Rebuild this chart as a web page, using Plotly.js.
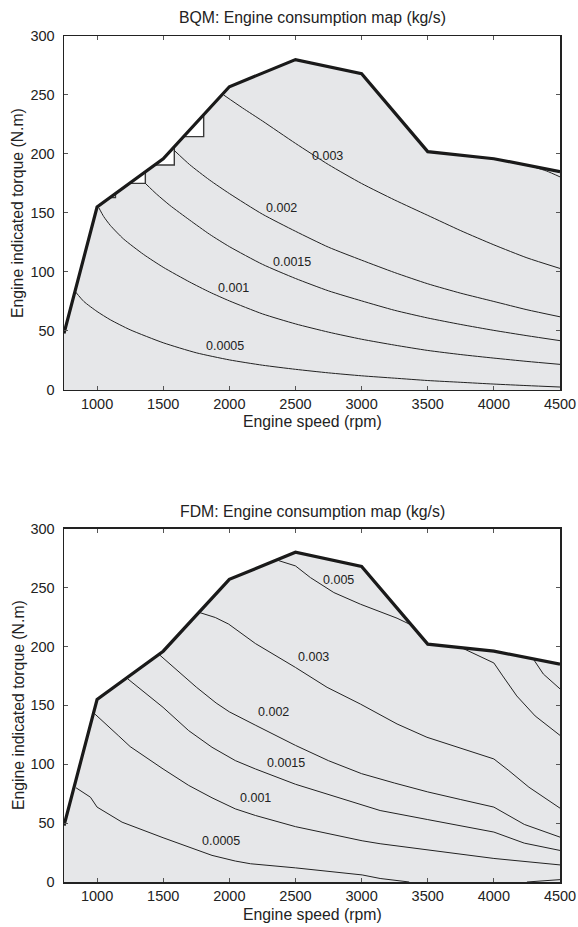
<!DOCTYPE html>
<html>
<head>
<meta charset="utf-8">
<script src="https://cdn.plot.ly/plotly-3.0.1.min.js"></script>
<style>html,body{margin:0;padding:0;background:#fff;}#chart{width:578px;height:927px;}</style>
</head>
<body>
<div id="chart"></div>
<script>
// ---------- shared envelope (max torque curve) ----------
const envRpm = [750, 1000, 1500, 2000, 2500, 3000, 3500, 4000, 4500];
const envTorque = [48, 155, 196, 257, 280, 268, 202, 196, 185];

// ---------- BQM (top) ----------
const bqmFillRpm = [750, 1000, 1098, 1139, 1139, 1246, 1365, 1365, 1435, 1584, 1584, 1653, 1806, 1806, 2000, 2500, 3000, 3500, 4000, 4500];
const bqmFillTorque = [48, 155, 163, 163, 166.4, 175.1, 175.1, 184.9, 190.7, 190.7, 206.2, 214.7, 214.7, 233.3, 257, 280, 268, 202, 196, 185];

const bqm0005Rpm = [838, 900, 1000, 1100, 1250, 1500, 1750, 2000, 2250, 2500, 2750, 3000, 3250, 3500, 3750, 4000, 4250, 4500];
const bqm0005Tq = [83, 75, 66.5, 59.5, 51, 40, 31.5, 25.5, 21, 17.5, 14.5, 12, 10, 8, 6.5, 5, 3.7, 2.5];
const bqm001Rpm = [1013, 1050, 1100, 1200, 1350, 1500, 1700, 1850, 2000, 2250, 2500, 2750, 3000, 3250, 3500, 3750, 4000, 4250, 4500];
const bqm001Tq = [154.5, 147, 139.5, 128, 115, 104, 91.5, 83, 75.5, 64.5, 56, 49, 43, 38, 33.5, 30, 27, 24.2, 21.7];
const bqm0015Rpm = [1365, 1450, 1550, 1700, 1850, 2000, 2250, 2500, 2750, 3000, 3250, 3500, 3750, 4000, 4250, 4500];
const bqm0015Tq = [175.1, 166, 156.5, 144, 132, 121.5, 106.5, 94.5, 84, 75.5, 67.5, 61, 55.5, 50.5, 46, 41.8];
const bqm002Rpm = [1584, 1700, 1850, 2000, 2250, 2500, 2750, 3000, 3250, 3500, 3750, 4000, 4250, 4500];
const bqm002Tq = [203, 191, 178, 166.5, 149, 134.5, 121, 110, 99.5, 90, 82, 75, 68, 62];
const bqm003Rpm = [1957, 2100, 2250, 2500, 2750, 3000, 3250, 3500, 3750, 4000, 4250, 4500];
const bqm003Tq = [250, 239, 228, 209, 191, 175, 161, 148, 135, 123, 112, 103];
const bqmTopRpm = [4284, 4400, 4500];
const bqmTopTq = [189.6, 185.5, 180.6];

const bqmLabelText = ['0.003', '0.002', '0.0015', '0.001', '0.0005'];
const bqmLabelRpm = [2744, 2398, 2477, 2032, 1965];
const bqmLabelTq = [198.3, 154, 108.8, 86.2, 37.6];

// ---------- FDM (bottom) ----------
const fdm0005Rpm = [841, 950, 1000, 1189, 1499, 1693, 1869, 2045, 2160, 2500, 3004, 3140, 3360, null, 4250, 4500];
const fdm0005Tq = [80, 72, 63.6, 50.8, 37.6, 29.7, 22.6, 17.8, 15.5, 12, 6, 3, 0, null, 0, 2];
const fdm001Rpm = [985, 1000, 1164, 1250, 1499, 1693, 1869, 2045, 2197, 2500, 3004, 3140, 3500, 4000, 4500];
const fdm001Tq = [142.5, 141, 124, 115, 96, 82, 71.5, 62.1, 56.5, 47, 35, 32.5, 27.5, 20, 14.5];
const fdm0015Rpm = [1234, 1499, 1693, 1869, 2045, 2197, 2500, 3004, 3140, 3500, 4000, 4230, 4500];
const fdm0015Tq = [172.3, 148.3, 128.5, 114.4, 103.1, 96, 83, 65, 60.7, 53, 42.4, 33, 26.8];
const fdm002Rpm = [1471, 1600, 1750, 1900, 2000, 2200, 2500, 2750, 3000, 3250, 3500, 3750, 4000, 4230, 4500];
const fdm002Tq = [193, 180, 165.5, 152, 144.5, 133, 116, 103, 92, 84, 76.5, 70, 63.6, 48.9, 38.1];
const fdm003Rpm = [1770, 1894, 1995, 2096, 2197, 2500, 2739, 2991, 3140, 3268, 3494, 4000, 4113, 4265, 4500];
const fdm003Tq = [229, 224.6, 219, 210.5, 202.5, 182.2, 165.3, 151.1, 142, 134.2, 122.9, 104.5, 94.6, 80.5, 62.7];
const fdm005Rpm = [2370, 2500, 2613, 2790, 2991, 3268, 3380];
const fdm005Tq = [273, 268.4, 258.5, 245.8, 235.9, 224, 218];
const fdmRightARpm = [3754, 4000, 4067, 4173, 4312, 4500];
const fdmRightATq = [199, 186, 175, 158, 141, 124.5];
const fdmRightBRpm = [4298, 4374, 4500];
const fdmRightBTq = [189.4, 176.6, 164];

const fdmLabelText = ['0.005', '0.003', '0.002', '0.0015', '0.001', '0.0005'];
const fdmLabelRpm = [2827, 2638, 2336, 2430, 2196, 1937];
const fdmLabelTq = [256.2, 191.2, 144, 101.1, 71, 34.5];

const xTicks = [1000, 1500, 2000, 2500, 3000, 3500, 4000, 4500];

// ---------- styles ----------
const FONT = 'Liberation Sans, Arial, Helvetica, sans-serif';
const GRAY = '#e6e7e9';
const INK = '#1a1a1a';

function contour(x, y, ax, shape) {
  return {x: x, y: y, xaxis: ax[0], yaxis: ax[1], type: 'scatter', mode: 'lines',
    line: {color: '#222', width: 1, shape: shape || 'linear', smoothing: 0.6},
    hoverinfo: 'skip', showlegend: false, connectgaps: false};
}

const axTop = ['x', 'y'], axBot = ['x2', 'y2'];
const traces = [
  {x: bqmFillRpm, y: bqmFillTorque, xaxis: 'x', yaxis: 'y', type: 'scatter', mode: 'lines', fill: 'tozeroy',
   fillcolor: GRAY, line: {color: '#3a3a3a', width: 1.4}, hoverinfo: 'skip', showlegend: false},
  contour(bqm0005Rpm, bqm0005Tq, axTop, 'spline'),
  contour(bqm001Rpm, bqm001Tq, axTop, 'spline'),
  contour(bqm0015Rpm, bqm0015Tq, axTop, 'spline'),
  contour(bqm002Rpm, bqm002Tq, axTop, 'spline'),
  contour(bqm003Rpm, bqm003Tq, axTop, 'spline'),
  contour(bqmTopRpm, bqmTopTq, axTop, 'spline'),
  {x: envRpm, y: envTorque, xaxis: 'x', yaxis: 'y', type: 'scatter', mode: 'lines',
   line: {color: INK, width: 3.2}, hoverinfo: 'skip', showlegend: false},

  {x: envRpm, y: envTorque, xaxis: 'x2', yaxis: 'y2', type: 'scatter', mode: 'lines', fill: 'tozeroy',
   fillcolor: GRAY, line: {color: GRAY, width: 0}, hoverinfo: 'skip', showlegend: false},
  contour(fdm0005Rpm, fdm0005Tq, axBot),
  contour(fdm001Rpm, fdm001Tq, axBot),
  contour(fdm0015Rpm, fdm0015Tq, axBot),
  contour(fdm002Rpm, fdm002Tq, axBot),
  contour(fdm003Rpm, fdm003Tq, axBot),
  contour(fdm005Rpm, fdm005Tq, axBot),
  contour(fdmRightARpm, fdmRightATq, axBot),
  contour(fdmRightBRpm, fdmRightBTq, axBot),
  {x: envRpm, y: envTorque, xaxis: 'x2', yaxis: 'y2', type: 'scatter', mode: 'lines',
   line: {color: INK, width: 3.2}, hoverinfo: 'skip', showlegend: false}
];

function xAxis(anchor) {
  return {range: [750, 4500], tickvals: xTicks, ticktext: xTicks.map(String), ticks: 'inside', ticklen: 4,
    tickwidth: 1, tickcolor: '#555', showline: true, linecolor: '#222', linewidth: 1.5, mirror: 'ticks',
    showgrid: false, zeroline: false, anchor: anchor, domain: [0, 1],
    tickfont: {family: FONT, size: 14.5, color: '#222'}, fixedrange: true};
}
function yAxis(domain, anchor) {
  return {range: [0, 300], dtick: 50, tick0: 0, ticks: 'inside', ticklen: 4, tickwidth: 1, tickcolor: '#555',
    showline: true, linecolor: '#222', linewidth: 1.5, mirror: 'ticks', showgrid: false, zeroline: false,
    ticklabelstandoff: 5,
    domain: domain, anchor: anchor, tickfont: {family: FONT, size: 14.5, color: '#222'}, fixedrange: true};
}

const annotations = [];
function paperText(text, x, y, size, angle) {
  annotations.push({text: text, xref: 'paper', yref: 'paper', x: x, y: y, xanchor: 'center', yanchor: 'middle',
    showarrow: false, textangle: angle || 0, font: {family: FONT, size: size, color: '#222'}});
}
paperText('BQM: Engine consumption map (kg/s)', 0.5, 1.0221, 15.8);
paperText('FDM: Engine consumption map (kg/s)', 0.5, 0.4377, 15.8);
paperText('Engine speed (rpm)', 0.5, 0.5449, 15.8);
paperText('Engine speed (rpm)', 0.5, -0.039, 15.8);
paperText('Engine indicated torque (N.m)', -0.0927, 0.7908, 15.8, -90);
paperText('Engine indicated torque (N.m)', -0.0927, 0.2092, 15.8, -90);

bqmLabelText.forEach((t, i) => annotations.push({text: t, x: bqmLabelRpm[i], y: bqmLabelTq[i], xref: 'x', yref: 'y',
  showarrow: false, xanchor: 'center', yanchor: 'middle', font: {family: FONT, size: 12.5, color: '#222'}}));
fdmLabelText.forEach((t, i) => annotations.push({text: t, x: fdmLabelRpm[i], y: fdmLabelTq[i], xref: 'x2', yref: 'y2',
  showarrow: false, xanchor: 'center', yanchor: 'middle', font: {family: FONT, size: 12.5, color: '#222'}}));

const layout = {
  width: 578, height: 927,
  margin: {l: 64, r: 18, t: 36, b: 45, pad: 0},
  paper_bgcolor: '#ffffff', plot_bgcolor: '#ffffff',
  showlegend: false,
  xaxis: xAxis('y'),
  yaxis: yAxis([0.5816, 1], 'x'),
  xaxis2: xAxis('y2'),
  yaxis2: yAxis([0, 0.4176], 'x2'),
  annotations: annotations
};

Plotly.newPlot('chart', traces, layout, {staticPlot: true, displayModeBar: false});
</script>
</body>
</html>
